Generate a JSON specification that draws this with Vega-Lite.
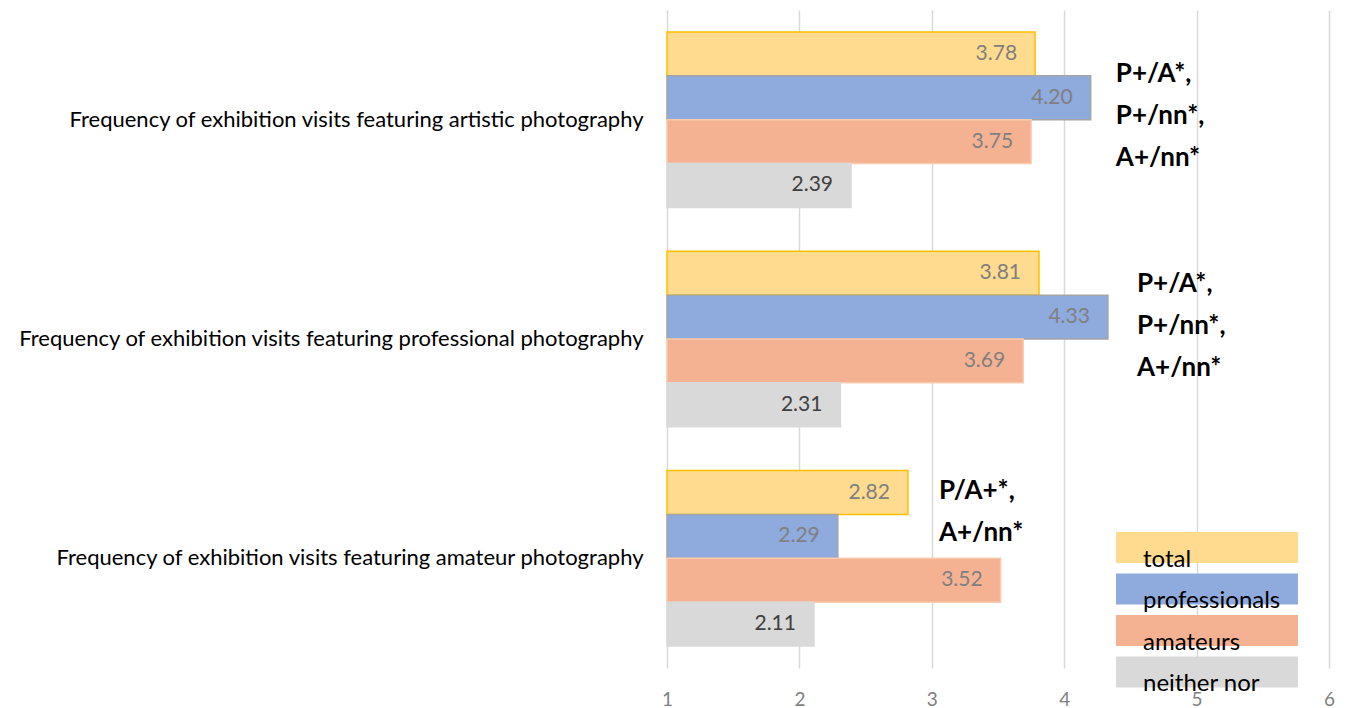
{
  "$schema": "https://vega.github.io/schema/vega-lite/v6.json",
  "width": 662,
  "height": 658,
  "autosize": {"type": "none"},
  "padding": {"left": 667, "top": 10, "right": 17, "bottom": 40},
  "config": {
    "view": {"stroke": null},
    "font": "Lato",
    "text": {"font": "Lato"}
  },
  "datasets": {
    "scores": [
      {"item": "Frequency of exhibition visits featuring artistic photography", "group": "total", "mean": 3.78},
      {"item": "Frequency of exhibition visits featuring artistic photography", "group": "professionals", "mean": 4.20},
      {"item": "Frequency of exhibition visits featuring artistic photography", "group": "amateurs", "mean": 3.75},
      {"item": "Frequency of exhibition visits featuring artistic photography", "group": "neither nor", "mean": 2.39},
      {"item": "Frequency of exhibition visits featuring professional photography", "group": "total", "mean": 3.81},
      {"item": "Frequency of exhibition visits featuring professional photography", "group": "professionals", "mean": 4.33},
      {"item": "Frequency of exhibition visits featuring professional photography", "group": "amateurs", "mean": 3.69},
      {"item": "Frequency of exhibition visits featuring professional photography", "group": "neither nor", "mean": 2.31},
      {"item": "Frequency of exhibition visits featuring amateur photography", "group": "total", "mean": 2.82},
      {"item": "Frequency of exhibition visits featuring amateur photography", "group": "professionals", "mean": 2.29},
      {"item": "Frequency of exhibition visits featuring amateur photography", "group": "amateurs", "mean": 3.52},
      {"item": "Frequency of exhibition visits featuring amateur photography", "group": "neither nor", "mean": 2.11}
    ],
    "notes": [
      {"item": "Frequency of exhibition visits featuring artistic photography", "at": 4.39, "lines": ["P+/A*,", "P+/nn*,", "A+/nn*"]},
      {"item": "Frequency of exhibition visits featuring professional photography", "at": 4.55, "lines": ["P+/A*,", "P+/nn*,", "A+/nn*"]},
      {"item": "Frequency of exhibition visits featuring amateur photography", "at": 3.054, "lines": ["P/A+*,", "A+/nn*"]}
    ]
  },
  "encoding": {
    "y": {
      "field": "item",
      "type": "nominal",
      "sort": null,
      "scale": {
        "domain": [
          "Frequency of exhibition visits featuring artistic photography",
          "Frequency of exhibition visits featuring professional photography",
          "Frequency of exhibition visits featuring amateur photography"
        ],
        "paddingInner": 0.2,
        "paddingOuter": 0.1
      },
      "axis": {
        "title": null,
        "ticks": false,
        "domain": false,
        "grid": false,
        "labelPadding": 24,
        "labelFontSize": 22,
        "labelColor": "#000000",
        "labelLimit": 700
      }
    },
    "x": {
      "field": "mean",
      "type": "quantitative",
      "scale": {"domain": [1, 6], "nice": false, "zero": false},
      "axis": {
        "title": null,
        "values": [1, 2, 3, 4, 5, 6],
        "format": "d",
        "ticks": false,
        "domain": false,
        "grid": true,
        "gridColor": "#D9D9D9",
        "gridWidth": 1.5,
        "labelFlush": false,
        "labelFontSize": 19,
        "labelColor": "#808080",
        "labelPadding": 22
      }
    }
  },
  "layer": [
    {
      "data": {"name": "scores"},
      "mark": {"type": "bar", "strokeWidth": 1.5},
      "encoding": {
        "x2": {"datum": 1},
        "yOffset": {
          "field": "group",
          "type": "nominal",
          "sort": ["total", "professionals", "amateurs", "neither nor"],
          "scale": {"paddingInner": 0, "paddingOuter": 0}
        },
        "color": {
          "field": "group",
          "type": "nominal",
          "sort": ["total", "professionals", "amateurs", "neither nor"],
          "scale": {
            "domain": ["total", "professionals", "amateurs", "neither nor"],
            "range": ["#FEDB8F", "#8FAADC", "#F5B292", "#D9D9D9"]
          },
          "legend": {
            "title": null,
            "orient": "none",
            "legendX": 449,
            "legendY": 522,
            "symbolType": "M-1,-1H10.74V1H-1Z",
            "symbolSize": 961,
            "symbolStrokeWidth": 0,
            "symbolOpacity": 1,
            "rowPadding": 1.5,
            "labelOffset": -4,
            "labelFontSize": 24,
            "labelColor": "#000000",
            "labelBaseline": "top",
            "labelLimit": 400
          }
        },
        "stroke": {
          "field": "group",
          "type": "nominal",
          "scale": {
            "domain": ["total", "professionals", "amateurs", "neither nor"],
            "range": ["#FFC000", "#A5A5A5", "#F8CBAD", "#D9D9D9"]
          },
          "legend": null
        }
      }
    },
    {
      "data": {"name": "scores"},
      "mark": {"type": "text", "align": "right", "baseline": "middle", "dx": -18, "fontSize": 21},
      "encoding": {
        "yOffset": {
          "field": "group",
          "type": "nominal",
          "sort": ["total", "professionals", "amateurs", "neither nor"]
        },
        "text": {"field": "mean", "type": "quantitative", "format": ".2f"},
        "color": {
          "condition": {"test": "datum.group === 'neither nor'", "value": "#404040"},
          "value": "#808080"
        }
      }
    },
    {
      "data": {"name": "notes"},
      "transform": [{"filter": "datum.item === 'Frequency of exhibition visits featuring artistic photography'"}],
      "mark": {"type": "text", "align": "left", "baseline": "middle", "fontSize": 26, "fontWeight": "bold", "lineHeight": 42, "dy": -46, "color": "#000000"},
      "encoding": {
        "x": {"field": "at", "type": "quantitative"},
        "text": {"field": "lines"}
      }
    },
    {
      "data": {"name": "notes"},
      "transform": [{"filter": "datum.item === 'Frequency of exhibition visits featuring professional photography'"}],
      "mark": {"type": "text", "align": "left", "baseline": "middle", "fontSize": 26, "fontWeight": "bold", "lineHeight": 42, "dy": -55, "color": "#000000"},
      "encoding": {
        "x": {"field": "at", "type": "quantitative"},
        "text": {"field": "lines"}
      }
    },
    {
      "data": {"name": "notes"},
      "transform": [{"filter": "datum.item === 'Frequency of exhibition visits featuring amateur photography'"}],
      "mark": {"type": "text", "align": "left", "baseline": "middle", "fontSize": 26, "fontWeight": "bold", "lineHeight": 42, "dy": -67, "color": "#000000"},
      "encoding": {
        "x": {"field": "at", "type": "quantitative"},
        "text": {"field": "lines"}
      }
    }
  ]
}
